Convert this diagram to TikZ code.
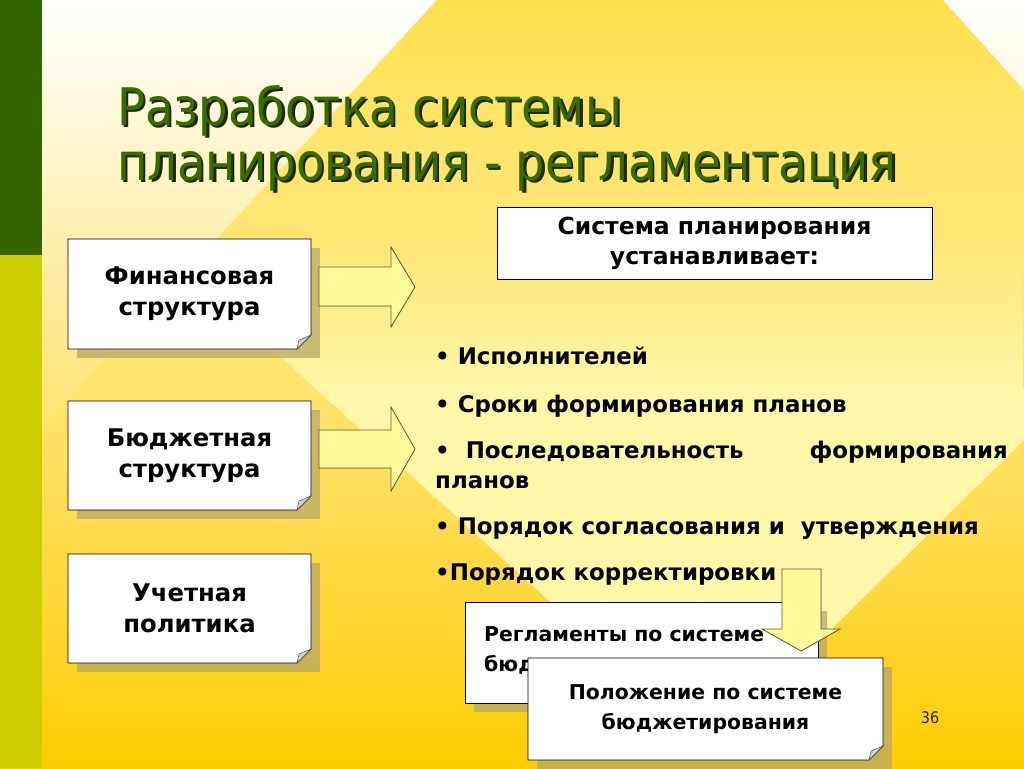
\documentclass[tikz,border=0pt]{standalone}
\usepackage{fontspec}
\setmainfont{DejaVu Sans Condensed}
\newfontfamily\bodyfont{DejaVu Sans}
\usetikzlibrary{fadings}
\definecolor{dkgreen}{HTML}{336600}
\definecolor{ygreen}{HTML}{CCCC00}
\definecolor{titlegreen}{HTML}{3A6A00}
\definecolor{titleshadow}{HTML}{1A2A00}
\definecolor{bandc}{HTML}{FFE04C}
\definecolor{basemid}{HTML}{FFF1B4}
\definecolor{basebot}{HTML}{FFCC00}
\definecolor{lightv}{HTML}{FFF7A8}
\definecolor{shadowc}{HTML}{B8A868}
\definecolor{arrowmid}{HTML}{FFFFD4}
\definecolor{arrowside}{HTML}{FFF99A}
\definecolor{arrowedge}{HTML}{5C5C28}
\tikzfading[name=fadein, top color=transparent!100, bottom color=transparent!0]
\tikzfading[name=fadeout, top color=transparent!0, bottom color=transparent!100]
\newcommand\shadowtitle[1]{\raisebox{-2.5pt}[0pt][0pt]{\rlap{\hspace{2.5pt}\textcolor{titleshadow}{#1}}}\textcolor{titlegreen}{#1}}
\tikzset{
  boxshape/.style={fill=white, draw=black, line width=0.9pt},
  foldshape/.style={fill=black!18, draw=black!70, line width=0.5pt},
  bigtext/.style={align=center, inner sep=0pt, font=\bodyfont\fontsize{24.3}{31}\selectfont\bfseries},
  smalltext/.style={align=center, inner sep=0pt, font=\bodyfont\fontsize{20.4}{30}\selectfont\bfseries},
  bullet/.style={anchor=base west, inner sep=0pt, font=\bodyfont\fontsize{22.9}{30}\selectfont\bfseries},
  blockarrow/.style={draw=arrowedge, line width=0.8pt},
  titletext/.style={anchor=base west, inner sep=0pt, font=\fontsize{51.8}{60}\selectfont},
}
\newcommand\foldbox[7]{%
  \fill[shadowc, opacity=0.75] (#2+9,#3+9) rectangle (#4+9,#5+9);
  \filldraw[boxshape] (#2,#3) -- (#4,#3) -- (#4,#5-14) -- (#4-14,#5) -- (#2,#5) -- cycle;
  \filldraw[foldshape] (#4,#5-14) -- (#4-14,#5) -- (#4-12,#5-9) -- cycle;
  \node[#7] (#1) at ({(#2+#4)/2},{(#3+#5)/2}) {#6};
}
\begin{document}
\begin{tikzpicture}[x=1pt,y=-1pt]
\useasboundingbox (0,0) rectangle (1024,768);
% background
\shade[top color=white, middle color=basemid, bottom color=basebot] (0,0) rectangle (1024,768);
\fill[bandc, path fading=fadeout] (437,0) -- (943,0) -- (1024,90) -- (1024,600) -- (42,600) -- (42,429) -- cycle;
\begin{scope}
  \clip (141,230) -- (1024,230) -- (1024,440) -- (711,748) -- cycle;
  \fill[lightv, path fading=fadein] (0,230) rectangle (1024,390);
  \fill[lightv] (0,389) rectangle (1024,770);
\end{scope}
% left strip
\fill[dkgreen] (0,0) rectangle (42,255);
\fill[ygreen] (0,255) rectangle (42,768);
% title
\node[titletext] (t1) at (117,125) {\shadowtitle{Разработка системы}};
\node[titletext] (t2) at (117,180) {\shadowtitle{планирования - регламентация}};
% left boxes
\foldbox{fin}{68}{239}{311}{349}{Финансовая\\структура}{bigtext}
\foldbox{bud}{68}{401}{311}{510}{Бюджетная\\структура}{bigtext}
\foldbox{uch}{68}{554}{311}{663}{Учетная\\политика}{bigtext}
% block arrows
\filldraw[blockarrow, top color=arrowside, middle color=arrowmid, bottom color=arrowside]
  (319,267) -- (391,267) -- (391,247) -- (415,287) -- (391,327) -- (391,306) -- (319,306) -- cycle;
\filldraw[blockarrow, top color=arrowside, middle color=arrowmid, bottom color=arrowside]
  (319,430) -- (391,430) -- (391,407) -- (415,449) -- (391,491) -- (391,468) -- (319,468) -- cycle;
% system box
\node[draw=black, fill=white, line width=0.9pt, minimum width=435, minimum height=72, align=center, inner sep=0pt,
      font=\bodyfont\fontsize{23.5}{30}\selectfont\bfseries] (sys) at (714.5,243) {Система планирования\\устанавливает:};
% bullets
\node[bullet] (b1) at (435,364) {• Исполнителей};
\node[bullet] (b2) at (435,412) {• Сроки формирования планов};
\node[bullet] (b3) at (435,458) {•\ \ Последовательность};
\node[bullet, anchor=base east] (b3r) at (1008,458) {формирования};
\node[bullet] (b3b) at (435,488) {планов};
\node[bullet] (b4) at (435,534) {• Порядок согласования и\ \ утверждения};
\node[bullet] (b5) at (435,580) {•Порядок корректировки};
% regulations box
\fill[shadowc, opacity=0.75] (474,611) rectangle (827,712);
\filldraw[boxshape] (465,602) rectangle (818,703);
\node[smalltext, align=left, anchor=north west] (reg) at (484,626) {Регламенты по системе\\бюджетирования};
% down arrow
\filldraw[blockarrow, left color=arrowside, middle color=arrowmid, right color=arrowside]
  (782,569) -- (821,569) -- (821,629) -- (840,629) -- (801,651) -- (762,629) -- (782,629) -- cycle;
% position box
\foldbox{pol}{528}{658}{883}{760}{Положение по системе\\бюджетирования}{smalltext}
% page number
\node[inner sep=0pt, font=\fontsize{16}{18}\selectfont, text=black!85] (num) at (930,718) {36};
\end{tikzpicture}
\end{document}
